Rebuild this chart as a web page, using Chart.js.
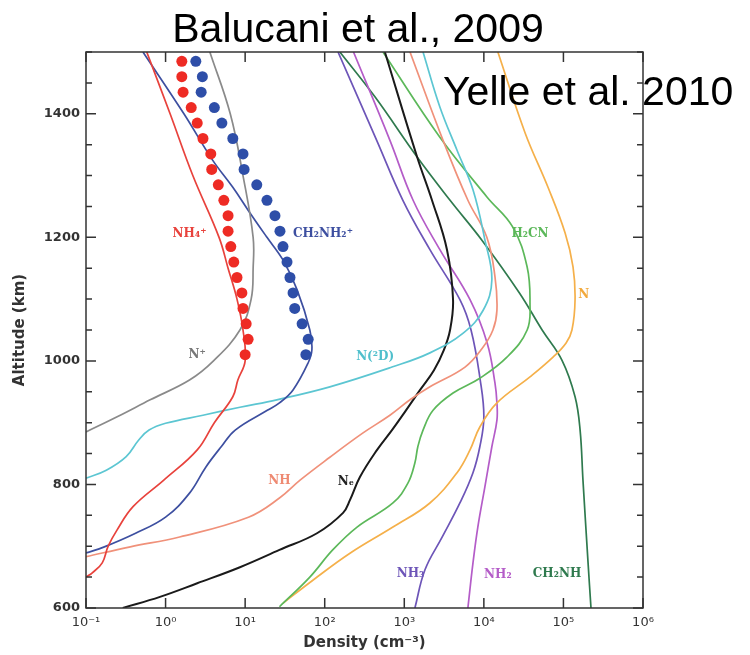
<!DOCTYPE html>
<html>
<head>
<meta charset="utf-8">
<script src="https://cdn.jsdelivr.net/npm/chart.js@4.4.1/dist/chart.umd.min.js"></script>
<style>
  html, body { margin: 0; padding: 0; background: #fff; }
</style>
</head>
<body>
<canvas id="chart" width="750" height="655"></canvas>
<script>
// axis ticks
const xTickValues = [0.1, 1, 10, 100, 1000, 10000, 100000, 1000000];
const xTickLabels = ['10⁻¹', '10⁰', '10¹', '10²', '10³', '10⁴', '10⁵', '10⁶'];
const yTickValues = [600, 800, 1000, 1200, 1400];

// Balucani et al. 2009 points (density cm-3 vs altitude km)
const altDots = [1485, 1460, 1435, 1410, 1385, 1360, 1335, 1310, 1285, 1260, 1235, 1210, 1185, 1160, 1135, 1110, 1085, 1060, 1035, 1010];
const nh4Dots = [1.6, 1.6, 1.66, 2.1, 2.5, 2.95, 3.7, 3.8, 4.6, 5.4, 6.1, 6.1, 6.6, 7.2, 7.9, 9.1, 9.4, 10.3, 10.9, 10.0];
const ch2nh2Dots = [2.4, 2.9, 2.8, 4.1, 5.1, 7.0, 9.4, 9.7, 14, 18.8, 23.7, 27.4, 29.9, 33.6, 36.6, 40, 42, 52, 62, 58];

// Yelle et al. 2010 model profiles
const altNplus = [1500, 1400, 1300, 1200, 1150, 1100, 1050, 1000, 969, 937, 910, 885];
const denNplus = [3.6, 6.5, 9.4, 12.6, 12.6, 11.9, 8.6, 4.0, 2.0, 0.64, 0.25, 0.1];

const altNH4 = [1500, 1400, 1300, 1200, 1150, 1100, 1050, 1000, 969, 942, 900, 856, 807, 764, 726, 700, 673, 657, 650];
const denNH4 = [0.58, 1.14, 2.2, 4.7, 6.1, 7.9, 9.4, 10, 8.1, 7.0, 4.1, 2.5, 0.95, 0.39, 0.245, 0.19, 0.16, 0.12, 0.1];

const altCH2NH2 = [1500, 1400, 1325, 1281, 1244, 1200, 1163, 1115, 1050, 1018, 997, 953, 932, 920, 888, 861, 828, 786, 747, 721, 699, 689];
const denCH2NH2 = [0.52, 1.7, 3.9, 7.0, 10.9, 18.8, 30, 45, 65, 69, 62, 40, 27, 19, 7.5, 5.0, 3.2, 2.0, 1.0, 0.42, 0.17, 0.1];

const altN2D = [1500, 1411, 1341, 1277, 1196, 1131, 1082, 1045, 1013, 990, 958, 937, 925, 912, 899, 888, 872, 845, 823, 810];
const denN2D = [1720, 2800, 4600, 7300, 10300, 12600, 9800, 5500, 2100, 700, 116, 25, 8.6, 2.95, 1.0, 0.62, 0.46, 0.32, 0.18, 0.1];

const altNH = [1500, 1357, 1260, 1200, 1136, 1082, 1050, 1020, 990, 958, 937, 912, 883, 844, 807, 778, 747, 715, 699, 683];
const denNH = [1180, 3070, 6300, 10900, 13800, 14600, 13000, 9500, 5800, 2100, 1180, 660, 300, 116, 49, 27, 11, 1.5, 0.36, 0.1];

const altNe = [1500, 1330, 1260, 1180, 1099, 1050, 1018, 985, 953, 920, 888, 856, 812, 775, 754, 721, 694, 666, 640, 618, 600];
const denNe = [570, 1450, 2230, 3440, 4100, 3760, 3150, 2360, 1580, 1050, 700, 455, 277, 208, 170, 80, 27, 8.6, 2.5, 0.85, 0.29];

const altH2CN = [1500, 1362, 1265, 1217, 1152, 1094, 1050, 1006, 972, 948, 920, 888, 861, 835, 802, 770, 731, 694, 650, 602];
const denH2CN = [540, 2800, 11000, 23000, 35000, 38000, 35000, 19500, 8900, 4100, 2300, 1720, 1480, 1360, 1110, 720, 255, 126, 65, 27];

const altN = [1500, 1369, 1281, 1207, 1152, 1099, 1050, 1029, 1006, 974, 932, 893, 856, 819, 770, 731, 689, 645, 608];
const denN = [15000, 33000, 64000, 105000, 132000, 140000, 128000, 108000, 74000, 38000, 14600, 8900, 6700, 4600, 2100, 720, 210, 71, 30];

const altNH3 = [1500, 1357, 1260, 1180, 1099, 1050, 969, 909, 861, 819, 770, 715, 662, 600];
const denNH3 = [147, 450, 960, 2100, 5000, 6900, 9000, 10000, 8900, 7300, 5000, 3000, 1820, 1360];

const altNH2 = [1500, 1357, 1260, 1180, 1099, 1029, 964, 932, 904, 861, 796, 731, 673, 600];
const denNH2 = [230, 660, 1290, 2800, 6700, 11000, 13800, 14600, 14600, 12600, 10300, 8400, 7300, 6300];

const altCH2NH = [1500, 1427, 1330, 1260, 1195, 1110, 1050, 1001, 942, 888, 807, 673, 600];
const denCH2NH = [155, 430, 1450, 3760, 9500, 28000, 54000, 96000, 140000, 162000, 176000, 204000, 222000];

// curve labels: text, density, altitude, colour
const curveLabels = [
  ['NH₄⁺', 2.0, 1205, '#e8423c'],
  ['CH₂NH₂⁺', 95, 1205, '#3d4fa0'],
  ['N⁺', 2.5, 1010, '#777'],
  ['N(²D)', 430, 1006, '#4fbfcc'],
  ['NH', 27, 806, '#ee8a72'],
  ['Nₑ', 185, 804, '#222'],
  ['H₂CN', 38000, 1205, '#5cb85a'],
  ['N', 180000, 1107, '#f2a93c'],
  ['NH₃', 1200, 655, '#6d55b8'],
  ['NH₂', 15000, 653, '#b45cc8'],
  ['CH₂NH', 83000, 655, '#2f7a4e']
];

function pts(den, alt) {
  return den.map((d, i) => ({ x: d, y: alt[i] }));
}

function line(den, alt, color, width) {
  return {
    data: pts(den, alt),
    showLine: true,
    borderColor: color,
    borderWidth: width || 1.7,
    pointRadius: 0,
    tension: 0.4,
    fill: false
  };
}

function dots(den, alt, color) {
  return {
    data: pts(den, alt),
    showLine: false,
    backgroundColor: color,
    borderColor: color,
    pointRadius: 5.5,
    pointBorderWidth: 0
  };
}

const decor = {
  id: 'decor',
  afterDraw(chart) {
    const { ctx, chartArea: a, scales: { x, y } } = chart;
    ctx.save();
    ctx.strokeStyle = '#333';
    ctx.lineWidth = 1.5;
    ctx.strokeRect(a.left, a.top, a.right - a.left, a.bottom - a.top);

    ctx.beginPath();
    xTickValues.forEach(v => {
      const px = x.getPixelForValue(v);
      ctx.moveTo(px, a.bottom); ctx.lineTo(px, a.bottom - 10);
      ctx.moveTo(px, a.top); ctx.lineTo(px, a.top + 10);
    });
    for (let v = 600; v <= 1500; v += 50) {
      const py = y.getPixelForValue(v);
      const len = v % 200 === 0 ? 10 : 6;
      ctx.moveTo(a.left, py); ctx.lineTo(a.left + len, py);
      ctx.moveTo(a.right, py); ctx.lineTo(a.right - len, py);
    }
    ctx.stroke();

    ctx.font = 'bold 12px "DejaVu Serif"';
    ctx.textAlign = 'center';
    ctx.textBaseline = 'middle';
    curveLabels.forEach(([t, d, h, c]) => {
      ctx.fillStyle = c;
      ctx.fillText(t, x.getPixelForValue(d), y.getPixelForValue(h));
    });

    ctx.fillStyle = '#000';
    ctx.font = '41px "Liberation Sans", Arial, sans-serif';
    ctx.textBaseline = 'alphabetic';
    ctx.fillText('Balucani et al., 2009', 358, 42);
    ctx.textAlign = 'left';
    ctx.fillText('Yelle et al. 2010', 443, 105);
    ctx.restore();
  }
};

new Chart(document.getElementById('chart').getContext('2d'), {
  type: 'scatter',
  data: {
    datasets: [
      dots(nh4Dots, altDots, '#ee2b24'),
      dots(ch2nh2Dots, altDots, '#2e4ea8'),
      line(denNplus, altNplus, '#8a8a8a'),
      line(denNH4, altNH4, '#e8423c'),
      line(denCH2NH2, altCH2NH2, '#3d4fa0'),
      line(denN2D, altN2D, '#5cc6d2'),
      line(denNH, altNH, '#f0917a'),
      line(denNe, altNe, '#1a1a1a', 2),
      line(denH2CN, altH2CN, '#5cb85a'),
      line(denN, altN, '#f5b04a'),
      line(denNH3, altNH3, '#6d55b8'),
      line(denNH2, altNH2, '#b45cc8'),
      line(denCH2NH, altCH2NH, '#2f7a4e')
    ]
  },
  options: {
    responsive: false,
    animation: false,
    devicePixelRatio: 1,
    layout: { padding: { top: 52, right: 107, left: 0, bottom: 0 } },
    plugins: { legend: { display: false }, tooltip: { enabled: false } },
    scales: {
      x: {
        type: 'logarithmic',
        min: 0.1,
        max: 1000000,
        afterBuildTicks: s => { s.ticks = xTickValues.map(v => ({ value: v })); },
        afterFit: s => { s.height = 47; },
        grid: { display: false, drawTicks: false },
        border: { display: false },
        ticks: {
          autoSkip: false,
          maxRotation: 0,
          padding: 7,
          color: '#333',
          font: { family: 'DejaVu Sans', size: 13 },
          callback: (v, i) => xTickLabels[i]
        },
        title: {
          display: true,
          text: 'Density (cm⁻³)',
          color: '#333',
          font: { family: 'DejaVu Sans', size: 15, weight: 'bold' },
          padding: { top: 0, bottom: 3 }
        }
      },
      y: {
        min: 600,
        max: 1500,
        afterBuildTicks: s => { s.ticks = yTickValues.map(v => ({ value: v })); },
        afterFit: s => { s.width = 86; },
        grid: { display: false, drawTicks: false },
        border: { display: false },
        ticks: {
          padding: 6,
          color: '#333',
          font: { family: 'DejaVu Sans', size: 13, weight: 'bold' },
          callback: v => String(v)
        },
        title: {
          display: true,
          text: 'Altitude (km)',
          color: '#333',
          font: { family: 'DejaVu Sans', size: 15, weight: 'bold' },
          padding: { top: 11, bottom: 0 }
        }
      }
    }
  },
  plugins: [decor]
});
</script>
</body>
</html>
